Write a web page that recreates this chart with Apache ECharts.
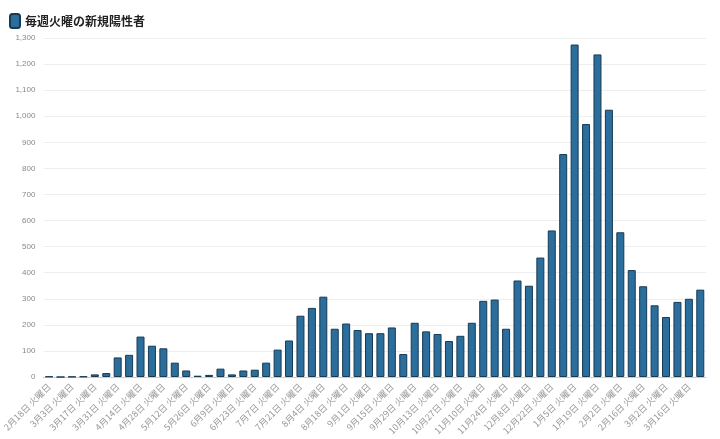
<!DOCTYPE html>
<html>
<head>
<meta charset="utf-8">
<script src="https://cdn.jsdelivr.net/npm/echarts@6/dist/echarts.min.js"></script>
<style>html,body{margin:0;padding:0;background:#fff}#main{width:720px;height:439px}</style>
</head>
<body>
<div id="main"></div>
<script>
// 週ごとの日付 (火曜日)
var dates = ['2月18日','2月25日','3月3日','3月10日','3月17日','3月24日','3月31日','4月7日','4月14日','4月21日',
  '4月28日','5月5日','5月12日','5月19日','5月26日','6月2日','6月9日','6月16日','6月23日','6月30日',
  '7月7日','7月14日','7月21日','7月28日','8月4日','8月11日','8月18日','8月25日','9月1日','9月8日',
  '9月15日','9月22日','9月29日','10月6日','10月13日','10月20日','10月27日','11月3日','11月10日','11月17日',
  '11月24日','12月1日','12月8日','12月15日','12月22日','12月29日','1月5日','1月12日','1月19日','1月26日',
  '2月2日','2月9日','2月16日','2月23日','3月2日','3月9日','3月16日','3月23日'];
var categories = dates.map(function (d) { return d + ' 火曜日'; });
var newCases = [2,0,1,2,10,15,75,85,155,120,
  110,55,25,5,8,32,10,25,28,55,
  105,140,235,265,308,185,205,180,168,168,
  190,88,208,175,165,138,158,208,292,297,
  185,370,350,458,562,855,1275,970,1237,1025,
  555,410,348,275,230,288,300,335];

var chart = echarts.init(document.getElementById('main'));
var option = {
  backgroundColor: '#fff',
  animation: false,
  legend: {
    left: 4, top: 8,
    itemWidth: 10, itemHeight: 14,
    textStyle: { fontFamily: 'Noto Sans CJK JP', fontSize: 12, fontWeight: 'bold', color: '#222' },
    data: [{ name: '毎週火曜の新規陽性者', icon: 'roundRect' }]
  },
  grid: { left: 42, right: 14, top: 38, bottom: 62 },
  xAxis: {
    type: 'category',
    data: categories,
    axisLine: { lineStyle: { color: '#ccc' } },
    axisTick: { show: false },
    axisLabel: { interval: 1, rotate: 45, fontSize: 9, color: '#999', fontFamily: 'Noto Sans CJK JP' }
  },
  yAxis: {
    type: 'value',
    min: 0, max: 1300, interval: 100,
    axisLine: { show: false },
    axisTick: { show: false },
    splitLine: { lineStyle: { color: '#eee' } },
    axisLabel: { fontSize: 8, color: '#888' }
  },
  series: [{
    name: '毎週火曜の新規陽性者',
    type: 'bar',
    data: newCases,
    barCategoryGap: '30%',
    itemStyle: { color: '#2b6e9b', borderColor: '#173a55', borderWidth: 1 }
  }]
};
chart.setOption(option);
</script>
</body>
</html>
